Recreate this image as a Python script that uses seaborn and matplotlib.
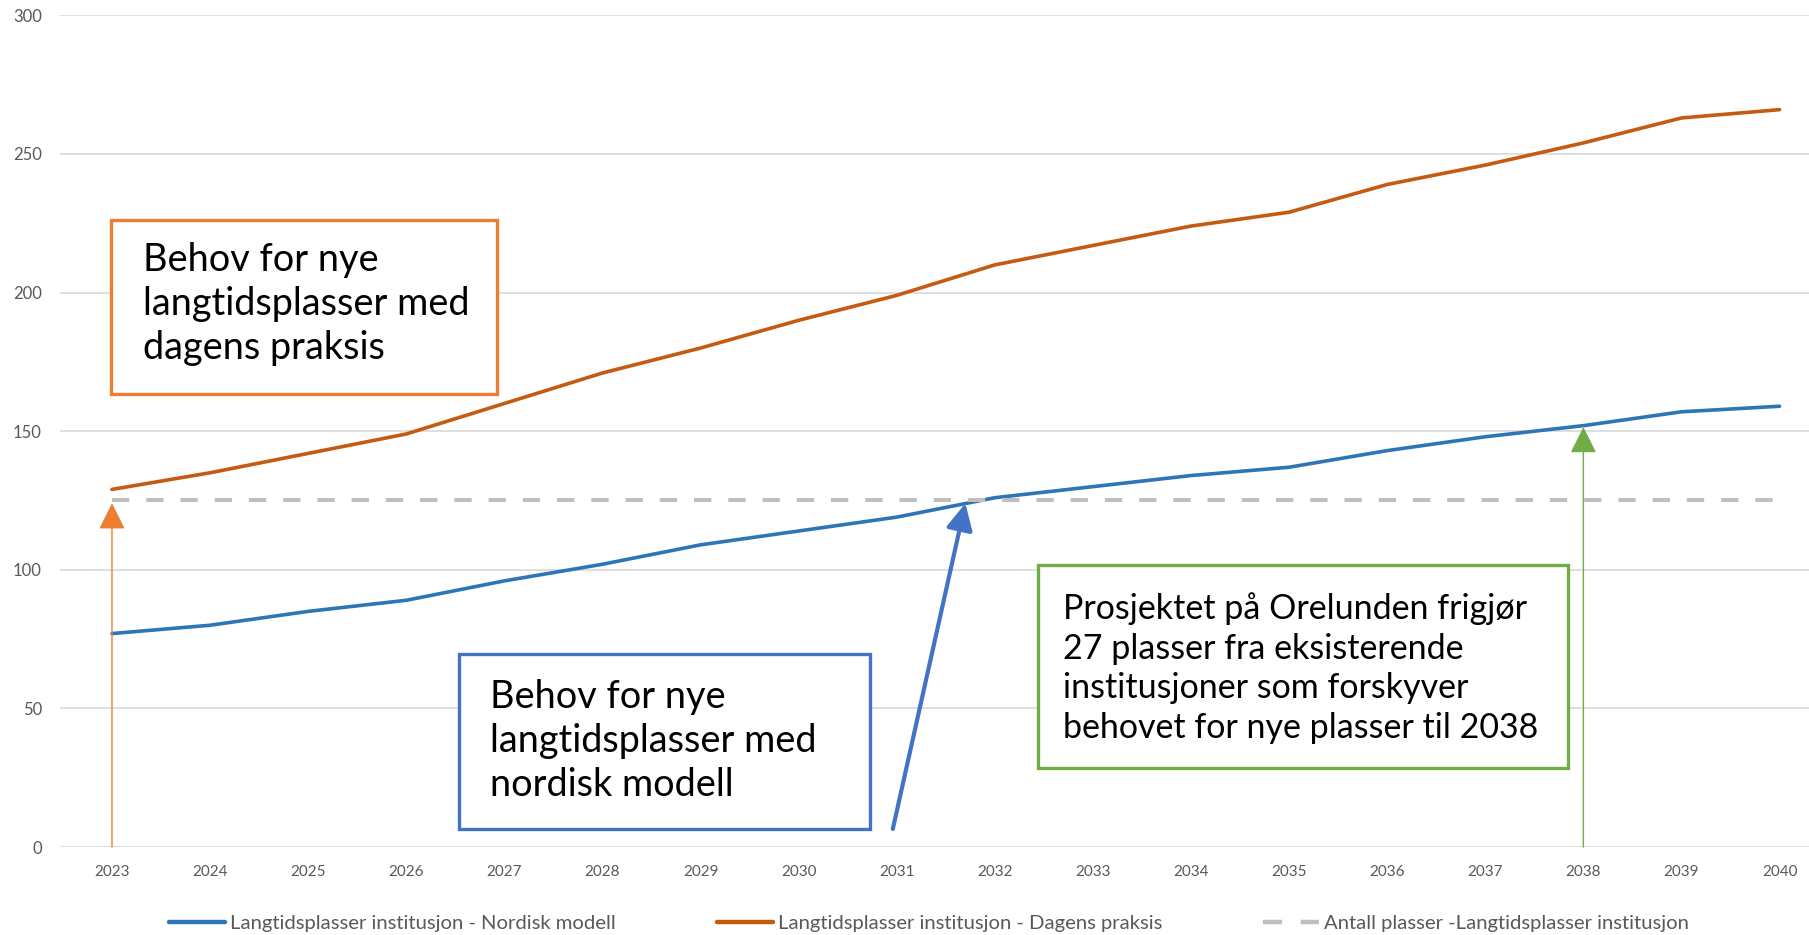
import pandas as pd
import seaborn as sns
import matplotlib.pyplot as plt
from matplotlib.patches import Rectangle

# data
years = list(range(2023, 2041))
nordisk = [77, 80, 85, 89, 96, 102, 109, 114, 119, 126, 130, 134, 137, 143, 148, 152, 157, 159]
dagens = [129, 135, 142, 149, 160, 171, 180, 190, 199, 210, 217, 224, 229, 239, 246, 254, 263, 266]
antall = [125] * len(years)

names = [
    "Langtidsplasser institusjon - Nordisk modell",
    "Langtidsplasser institusjon - Dagens praksis",
    "Antall plasser -Langtidsplasser institusjon",
]
yticks = [0, 50, 100, 150, 200, 250, 300]

df = pd.concat([
    pd.DataFrame({"year": years, "value": nordisk, "serie": names[0]}),
    pd.DataFrame({"year": years, "value": dagens, "serie": names[1]}),
    pd.DataFrame({"year": years, "value": antall, "serie": names[2]}),
])

sns.set_theme(style="white")
plt.rcParams["font.family"] = ["Lato", "DejaVu Sans"]

palette = {names[0]: "#2E75B6", names[1]: "#C55A11", names[2]: "#BFBFBF"}
dashes = {names[0]: "", names[1]: "", names[2]: (4.3, 4.2)}

fig = plt.figure(figsize=(18.09, 9.35), dpi=100)
ax = fig.add_axes([60 / 1809, 1 - 847 / 935, 1 - 60 / 1809, 831.6 / 935])

sns.lineplot(data=df, x="year", y="value", hue="serie", style="serie",
             palette=palette, dashes=dashes, linewidth=2.6, ax=ax,
             legend=True)
for line in ax.get_lines():
    line.set_solid_capstyle("round")
ax.get_lines()[2].set_linewidth(2.9)

ax.set_xlim(2022.47, 2040.3)
ax.set_ylim(0, 300)
ax.set_xticks(years)
ax.set_yticks(yticks)
ax.set_xlabel("")
ax.set_ylabel("")
ax.yaxis.grid(True, color="#D9D9D9", linewidth=1.2)
ax.set_axisbelow(True)
for s in ax.spines.values():
    s.set_visible(False)
ax.tick_params(axis="x", length=0, pad=13, labelsize=11, labelcolor="#595959")
ax.tick_params(axis="y", length=0, pad=13, labelsize=12, labelcolor="#595959")

# legend at the bottom
handles, labels = ax.get_legend_handles_labels()
leg = ax.legend(handles, labels, loc="center", ncol=3, frameon=False,
                bbox_to_anchor=(0.5135, 0.0128), bbox_transform=fig.transFigure,
                fontsize=14.6, handlelength=2.75, handletextpad=0.25,
                columnspacing=5.0, labelcolor="#595959")
for h in leg.get_lines():
    h.set_linewidth(3.2)

# arrows
ax.annotate("", xy=(2023, 124), xytext=(2023, 0),
            arrowprops=dict(arrowstyle="-|>,head_length=1.0,head_width=0.5",
                            mutation_scale=16.5, lw=1.0, color="#ED7D31",
                            shrinkA=0, shrinkB=0))
ax.annotate("", xy=(2031.7, 124), xytext=(2030.96, 6.5),
            arrowprops=dict(arrowstyle="-|>,head_length=0.8,head_width=0.4",
                            mutation_scale=20, lw=3.0, color="#4472C4",
                            shrinkA=0, shrinkB=0))
ax.annotate("", xy=(2038, 151.5), xytext=(2038, 0),
            arrowprops=dict(arrowstyle="-|>,head_length=1.0,head_width=0.5",
                            mutation_scale=16.5, lw=1.0, color="#70AD47",
                            shrinkA=0, shrinkB=0))


def box(x0, y0, x1, y1, color, text, tx, ty, size, spacing):
    fig.patches.append(Rectangle((x0 / 1809, 1 - y1 / 935), (x1 - x0) / 1809,
                                 (y1 - y0) / 935, transform=fig.transFigure,
                                 facecolor="white", edgecolor=color, lw=2.4,
                                 zorder=5))
    fig.text(tx / 1809, 1 - ty / 935, text, fontsize=size, color="black",
             ha="left", va="top", linespacing=spacing, zorder=6)


box(111, 220, 497, 394, "#ED7D31",
    "Behov for nye\nlangtidsplasser med\ndagens praksis", 143, 242, 27.3, 1.27)
box(459, 654, 870, 829, "#4472C4",
    "Behov for nye\nlangtidsplasser med\nnordisk modell", 490, 679, 27.3, 1.27)
box(1038, 565, 1568, 768, "#70AD47",
    "Prosjektet på Orelunden frigjør\n27 plasser fra eksisterende\n"
    "institusjoner som forskyver\nbehovet for nye plasser til 2038",
    1063, 592, 24.5, 1.3)

fig.savefig("out.png", dpi=100)
